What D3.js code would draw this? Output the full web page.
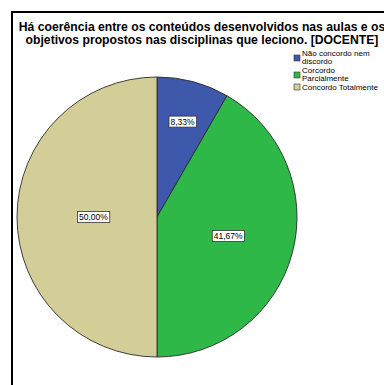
<!DOCTYPE html>
<html>
<head>
<meta charset="utf-8">
<script src="https://cdn.jsdelivr.net/npm/d3@7"></script>
<style>
  html, body { margin: 0; padding: 0; background: #fff; }
  svg { display: block; }
</style>
</head>
<body>
<svg id="chart" width="384" height="385"></svg>
<script>
// Response categories, share of answers (%) and slice colours
const categories = ["Não concordo nem discordo", "Corcordo Parcialmente", "Concordo Totalmente"];
const legendLines = [["Não concordo nem", "discordo"], ["Corcordo", "Parcialmente"], ["Concordo Totalmente"]];
const percentages = [8.33, 41.67, 50.00];
const colors = ["#3E58AC", "#2EB848", "#D3CE97"];
const titleLines = [
  "Há coerência entre os conteúdos desenvolvidos nas aulas e os",
  "objetivos propostos nas disciplinas que leciono. [DOCENTE]"
];

const svg = d3.select("#chart");

// Outer frame (extends past the right and bottom edges)
svg.append("rect")
  .attr("x", 12).attr("y", 12)
  .attr("width", 420).attr("height", 420)
  .attr("fill", "#fff").attr("stroke", "#000").attr("stroke-width", 2);

// Title
svg.append("g").selectAll("text")
  .data(titleLines)
  .join("text")
  .attr("x", 202)
  .attr("y", (d, i) => 31 + i * 12.5)
  .attr("text-anchor", "middle")
  .attr("font-family", "Liberation Sans, Arial, sans-serif")
  .attr("font-weight", "bold")
  .attr("font-size", 12.2)
  .attr("fill", "#000")
  .text(d => d);

// Pie
const cx = 157, cy = 217, R = 140;
const pie = d3.pie().sort(null).value(d => d)
  .startAngle(0).endAngle(2 * Math.PI);
const arcs = pie(percentages);
const arc = d3.arc().innerRadius(0).outerRadius(R);

const g = svg.append("g").attr("transform", `translate(${cx},${cy})`);
g.selectAll("path")
  .data(arcs)
  .join("path")
  .attr("d", arc)
  .attr("fill", (d, i) => colors[i])
  .attr("stroke", "#2a2a2a")
  .attr("stroke-width", 0.9);

// Value labels at each sector's area centroid
const fmt = v => d3.format(".2f")(v).replace(".", ",") + "%";
const labels = g.selectAll("g.lbl")
  .data(arcs)
  .join("g")
  .attr("class", "lbl")
  .attr("transform", d => {
    const half = (d.endAngle - d.startAngle) / 2;
    const mid = d.startAngle + half;
    const dist = 1.07 * 2 * R * Math.sin(half) / (3 * half);
    return `translate(${dist * Math.sin(mid)},${-dist * Math.cos(mid)})`;
  });

labels.append("text")
  .attr("text-anchor", "middle")
  .attr("dy", "0.35em")
  .attr("font-family", "Liberation Sans, Arial, sans-serif")
  .attr("font-size", 8.5)
  .attr("fill", "#000")
  .text(d => fmt(d.data));

labels.each(function() {
  const grp = d3.select(this);
  const bb = grp.select("text").node().getBBox();
  grp.insert("rect", "text")
    .attr("x", bb.x - 1.5).attr("y", bb.y - 0.5)
    .attr("width", bb.width + 3).attr("height", bb.height + 1)
    .attr("fill", "#fff").attr("stroke", "#333").attr("stroke-width", 0.8);
});

// Legend
const legend = svg.append("g").attr("transform", "translate(294,50)");
let yy = 0;
categories.forEach((c, i) => {
  const lines = legendLines[i];
  const item = legend.append("g").attr("transform", `translate(0,${yy})`);
  item.append("rect")
    .attr("x", 0).attr("y", lines.length > 1 ? 5 : 0)
    .attr("width", 6).attr("height", 6)
    .attr("fill", colors[i]).attr("stroke", "#333").attr("stroke-width", 0.6);
  item.selectAll("text")
    .data(lines)
    .join("text")
    .attr("x", 8)
    .attr("y", (d, j) => 6 + j * 7.5)
    .attr("font-family", "Liberation Sans, Arial, sans-serif")
    .attr("font-size", 8)
    .attr("fill", "#000")
    .text(d => d);
  yy += lines.length * 7.5 + 2;
});
</script>
</body>
</html>
